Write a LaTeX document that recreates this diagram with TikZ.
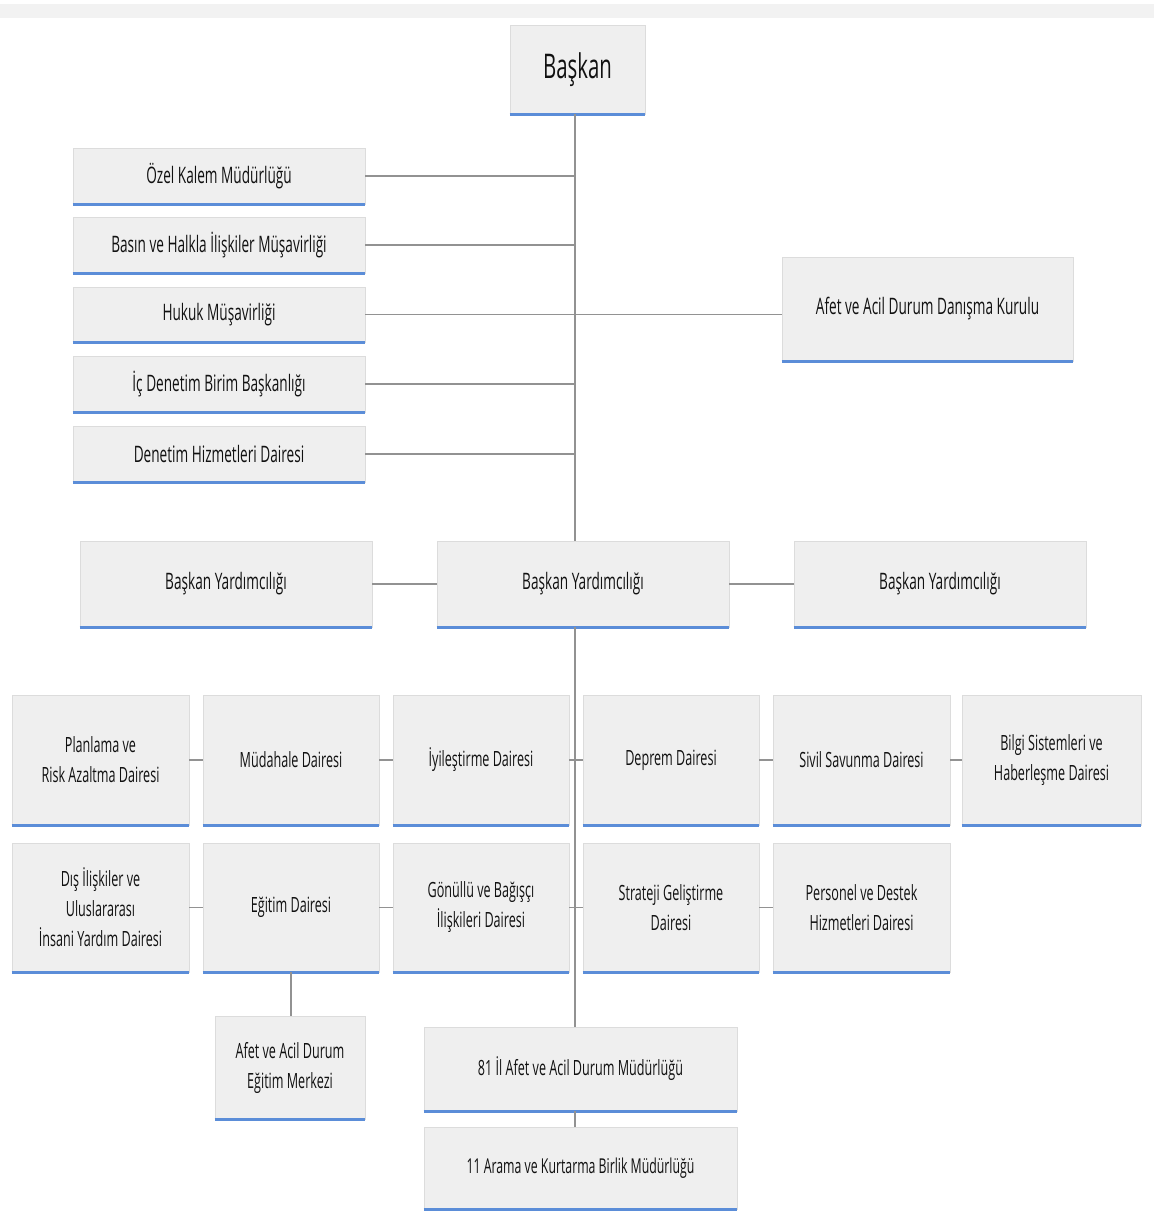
\documentclass[tikz,border=0pt]{standalone}
\usepackage{fontspec}
\setmainfont{Open Sans}[FakeStretch=0.6]
\usetikzlibrary{calc}
\definecolor{boxfill}{HTML}{EFEFEF}
\definecolor{boxline}{HTML}{DCDCDC}
\definecolor{bluebar}{HTML}{5B8DD8}
\definecolor{conn}{HTML}{929292}
\definecolor{txt}{HTML}{111111}
\tikzset{
  orgbox/.style={draw=boxline, line width=0.8pt, fill=boxfill, inner sep=2pt, align=center,
    text=txt, font=\fontsize{21}{30}\selectfont,
    append after command={(\tikzlastnode.south west) edge[bluebarline] (\tikzlastnode.south east)}},
  bluebarline/.style={draw=bluebar, line width=3pt},
  conline/.style={draw=conn, line width=1.6pt},
  bigtext/.style={font=\fontsize{22.7}{30}\selectfont},
}
\newcommand\obox[7][]{%
  \node[orgbox,#1, minimum width={(#4-#2)*1pt}, minimum height={(#5-#3)*1pt}]
    (#6) at ({(#2+#4)/2},{(#3+#5)/2}) {#7};}
\begin{document}
\begin{tikzpicture}[x=1pt,y=-1pt]
\useasboundingbox (0,0) rectangle (1154,1211);
\fill[gray!10] (0,4) rectangle (1154,18);
% top
\obox[font=\fontsize{34}{36}\selectfont]{510}{25}{645}{114}{baskan}{Başkan}
% left staff
\obox[bigtext]{73}{148}{365}{204}{ozel}{Özel Kalem Müdürlüğü}
\obox[bigtext]{73}{217}{365}{273}{basin}{Basın ve Halkla İlişkiler Müşavirliği}
\obox[bigtext]{73}{287}{365}{342}{hukuk}{Hukuk Müşavirliği}
\obox[bigtext]{73}{356}{365}{412}{icden}{İç Denetim Birim Başkanlığı}
\obox[bigtext]{73}{426}{365}{482}{denhiz}{Denetim Hizmetleri Dairesi}
\obox[bigtext]{782}{257}{1073}{361}{danisma}{Afet ve Acil Durum Danışma Kurulu}
% vice presidents
\obox[bigtext]{80}{541}{372}{627}{by1}{Başkan Yardımcılığı}
\obox[bigtext]{437}{541}{729}{627}{by2}{Başkan Yardımcılığı}
\obox[bigtext]{794}{541}{1086}{627}{by3}{Başkan Yardımcılığı}
% row 1
\obox{12}{695}{189}{825}{planlama}{Planlama ve\\Risk Azaltma Dairesi}
\obox{203}{695}{379}{825}{mudahale}{Müdahale Dairesi}
\obox{393}{695}{569}{825}{iyiles}{İyileştirme Dairesi}
\obox{583}{695}{759}{825}{deprem}{Deprem Dairesi}
\obox{773}{695}{950}{825}{sivil}{Sivil Savunma Dairesi}
\obox{962}{695}{1141}{825}{bilgi}{Bilgi Sistemleri ve\\Haberleşme Dairesi}
% row 2
\obox{12}{843}{189}{972}{dis}{Dış İlişkiler ve\\Uluslararası\\İnsani Yardım Dairesi}
\obox{203}{843}{379}{972}{egitim}{Eğitim Dairesi}
\obox{393}{843}{569}{972}{gonullu}{Gönüllü ve Bağışçı\\İlişkileri Dairesi}
\obox{583}{843}{759}{972}{strateji}{Strateji Geliştirme\\Dairesi}
\obox{773}{843}{950}{972}{personel}{Personel ve Destek\\Hizmetleri Dairesi}
% bottom
\obox{215}{1016}{365}{1119}{merkez}{Afet ve Acil Durum\\Eğitim Merkezi}
\obox{424}{1027}{737}{1111}{il81}{81 İl Afet ve Acil Durum Müdürlüğü}
\obox[font=\fontsize{20.5}{30}\selectfont]{424}{1127}{737}{1209}{arama}{11 Arama ve Kurtarma Birlik Müdürlüğü}
% connectors
\coordinate (trunktop) at ($(baskan.south)+(-2.5,0)$);
\draw[conline] (trunktop) -- (trunktop |- by2.north);
\foreach \n in {ozel,basin,hukuk,icden,denhiz}
  \draw[conline] (\n.east) -- (\n.east -| trunktop);
\draw[conline] (danisma.west |- hukuk.east) -- (hukuk.east -| trunktop);
\draw[conline] (by1.east) -- (by2.west);
\draw[conline] (by2.east) -- (by3.west);
\draw[conline] (trunktop |- by2.south) -- (trunktop |- il81.north);
\draw[conline] (planlama.east) -- (mudahale.west);
\draw[conline] (mudahale.east) -- (iyiles.west);
\draw[conline] (iyiles.east) -- (deprem.west);
\draw[conline] (deprem.east) -- (sivil.west);
\draw[conline] (sivil.east) -- (bilgi.west);
\draw[conline] (dis.east) -- (egitim.west);
\draw[conline] (egitim.east) -- (gonullu.west);
\draw[conline] (gonullu.east) -- (strateji.west);
\draw[conline] (strateji.east) -- (personel.west);
\draw[conline] (egitim.south) -- (egitim.south |- merkez.north);
\draw[conline] (trunktop |- il81.south) -- (trunktop |- arama.north);
\end{tikzpicture}
\end{document}
